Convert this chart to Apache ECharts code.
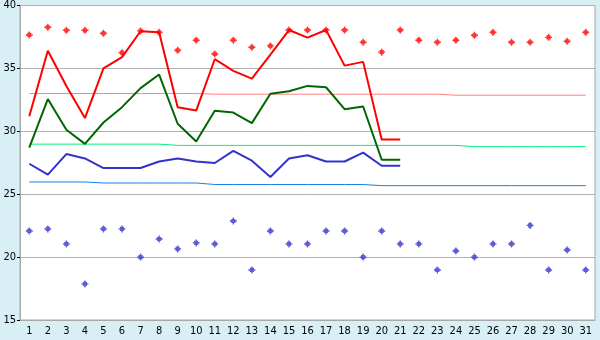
<!DOCTYPE html>
<html>
<head>
<meta charset="utf-8">
<script src="https://cdn.jsdelivr.net/npm/echarts@6/dist/echarts.min.js"></script>
<style>
  html, body { margin: 0; padding: 0; background: #d9eff6; }
  #chart { width: 600px; height: 340px; }
</style>
</head>
<body>
<div id="chart"></div>
<script>
// days of the month
const days = ['1','2','3','4','5','6','7','8','9','10','11','12','13','14','15','16','17','18','19','20','21','22','23','24','25','26','27','28','29','30','31'];

// main lines (days 1-21)
const redLine = [31.2, 36.4, 33.6, 31.05, 35.0, 35.9, 37.95, 37.87, 31.92, 31.65, 35.73, 34.8, 34.19, 36.1, 38.05, 37.45, 38.05, 35.22, 35.52, 29.35, 29.35];
const greenLine = [28.71, 32.56, 30.12, 29.0, 30.7, 31.92, 33.43, 34.51, 30.6, 29.19, 31.63, 31.49, 30.65, 32.98, 33.19, 33.61, 33.5, 31.76, 31.97, 27.74, 27.74];
const blueLine = [27.42, 26.55, 28.19, 27.84, 27.08, 27.08, 27.08, 27.6, 27.84, 27.6, 27.48, 28.45, 27.66, 26.37, 27.84, 28.1, 27.6, 27.6, 28.3, 27.26, 27.26];

// reference lines
const redRef = [33.0, 33.0, 33.0, 33.0, 33.0, 33.0, 33.0, 33.0, 33.0, 33.0, 32.95, 32.95, 32.95, 32.95, 32.95, 32.95, 32.95, 32.95, 32.95, 32.95, 32.95, 32.95, 32.95, 32.87, 32.87, 32.87, 32.87, 32.87, 32.87, 32.87, 32.87];
const greenRef = [28.98, 28.98, 28.98, 28.98, 28.98, 28.98, 28.98, 28.98, 28.88, 28.88, 28.88, 28.88, 28.88, 28.88, 28.88, 28.88, 28.88, 28.88, 28.88, 28.88, 28.88, 28.88, 28.88, 28.88, 28.78, 28.78, 28.78, 28.78, 28.78, 28.78, 28.78];
const blueRef = [25.97, 25.97, 25.97, 25.97, 25.89, 25.89, 25.89, 25.89, 25.89, 25.89, 25.77, 25.77, 25.77, 25.77, 25.77, 25.77, 25.77, 25.77, 25.77, 25.68, 25.68, 25.68, 25.68, 25.68, 25.68, 25.68, 25.68, 25.68, 25.68, 25.68, 25.68];

// scattered points
const redPoints = [37.66, 38.27, 38.03, 38.03, 37.79, 36.25, 37.98, 37.87, 36.44, 37.24, 36.15, 37.24, 36.68, 36.79, 38.05, 38.05, 38.05, 38.05, 37.08, 36.29, 38.05, 37.24, 37.08, 37.24, 37.63, 37.87, 37.08, 37.08, 37.47, 37.16, 37.87];
const bluePoints = [22.08, 22.24, 21.05, 17.87, 22.24, 22.24, 20.0, 21.44, 20.65, 21.13, 21.05, 22.87, 18.98, 22.08, 21.05, 21.05, 22.08, 22.08, 20.0, 22.08, 21.05, 21.05, 18.98, 20.49, 20.0, 21.05, 21.05, 22.52, 18.98, 20.57, 18.98];

// small stair-step diamond, looks like a fat plus
const plusSymbol = 'path://M2,0H3V1H4V2H5V3H4V4H3V5H2V4H1V3H0V2H1V1H2Z';
const labelFont = ['DejaVu Sans Condensed', 'DejaVu Sans', 'sans-serif'].join(',');

const chart = echarts.init(document.getElementById('chart'));

const lineSeries = (data, color, width) => ({
  type: 'line',
  data,
  symbol: 'none',
  silent: true,
  lineStyle: { color, width },
});

const pointSeries = (data, color) => ({
  type: 'scatter',
  data,
  symbol: plusSymbol,
  symbolSize: 7,
  silent: true,
  itemStyle: { color },
});

chart.setOption({
  backgroundColor: '#d9eff6',
  animation: false,
  grid: {
    left: 20, right: 5, top: 5, bottom: 20,
    show: true,
    backgroundColor: '#ffffff',
    borderColor: '#a8a8a8',
    borderWidth: 1,
  },
  xAxis: {
    type: 'category',
    data: days,
    boundaryGap: true,
    axisLine: { lineStyle: { color: '#a8a8a8' } },
    axisTick: { alignWithLabel: true, length: 4, lineStyle: { color: '#000' } },
    axisLabel: { color: '#000', fontFamily: labelFont, fontSize: 11, margin: 6, interval: 0 },
    splitLine: { show: false },
  },
  yAxis: {
    type: 'value',
    min: 15, max: 40, interval: 5,
    axisLine: { show: true, lineStyle: { color: '#a8a8a8' } },
    axisTick: { show: true, length: 3, lineStyle: { color: '#000' } },
    axisLabel: { color: '#000', fontFamily: labelFont, fontSize: 11, margin: 4, verticalAlign: 'middle', padding: [4, 0, 0, 0] },
    splitLine: { lineStyle: { color: '#b0b0b0' } },
  },
  series: [
    lineSeries(redRef, '#ff8080', 1),
    lineSeries(greenRef, '#00f080', 1),
    lineSeries(blueRef, '#1a7ff0', 1),
    lineSeries(blueLine, '#3333cc', 2),
    lineSeries(greenLine, '#006600', 2),
    lineSeries(redLine, '#ff0000', 2),
    pointSeries(redPoints, '#ff0000'),
    pointSeries(bluePoints, '#3333cc'),
  ],
});
</script>
</body>
</html>
